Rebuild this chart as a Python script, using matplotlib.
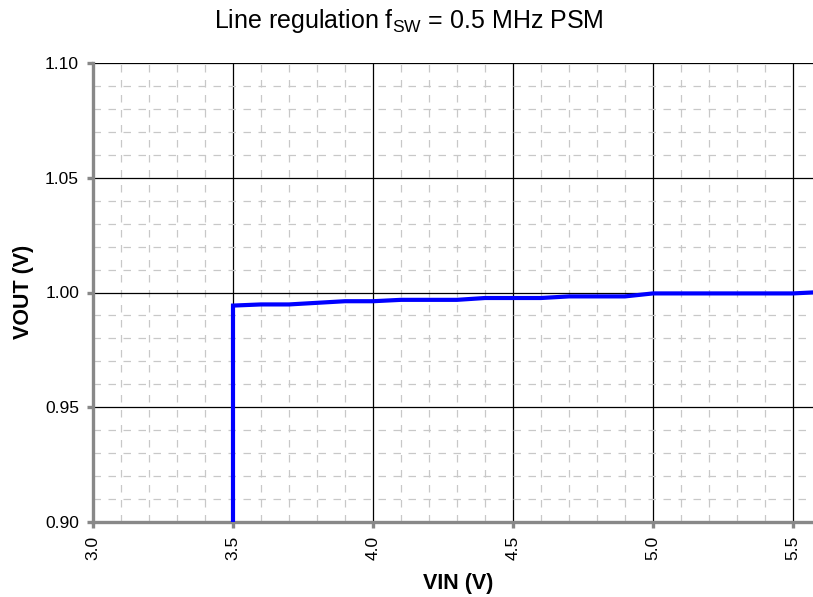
import matplotlib
matplotlib.use("Agg")
import matplotlib.pyplot as plt
from matplotlib.ticker import MultipleLocator, FormatStrFormatter

plt.rcParams['font.family'] = ['Liberation Sans', 'DejaVu Sans']
plt.rcParams['mathtext.fontset'] = 'custom'
plt.rcParams['mathtext.rm'] = 'Liberation Sans'

# VIN sweep (V) and measured VOUT (V)
vin = [3.5, 3.5, 3.6, 3.7, 3.8, 3.9, 4.0, 4.1, 4.2, 4.3, 4.4, 4.5, 4.6,
       4.7, 4.8, 4.9, 5.0, 5.1, 5.2, 5.3, 5.4, 5.5, 5.6]
vout = [0.80, 0.9943, 0.9948, 0.9948, 0.9955, 0.9962, 0.9962, 0.9968, 0.9968,
        0.9968, 0.9976, 0.9976, 0.9976, 0.9983, 0.9983, 0.9983, 0.9996,
        0.9996, 0.9996, 0.9996, 0.9996, 0.9996, 1.0002]

fig = plt.figure(figsize=(8.13, 5.97), dpi=100)
ax = fig.add_axes([93 / 813, 1 - 522 / 597, 720 / 813, 459 / 597])

ax.plot(vin, vout, color='#0000ff', lw=3.0, solid_joinstyle='miter', zorder=5)

ax.set_xlim(3.0, 3.0 + 720 / 280)
ax.set_ylim(0.90, 1.10)

ax.xaxis.set_major_locator(MultipleLocator(0.5))
ax.xaxis.set_minor_locator(MultipleLocator(0.1))
ax.yaxis.set_major_locator(MultipleLocator(0.05))
ax.yaxis.set_minor_locator(MultipleLocator(0.01))
ax.xaxis.set_major_formatter(FormatStrFormatter('%.1f'))
ax.yaxis.set_major_formatter(FormatStrFormatter('%.2f'))

ax.grid(which='minor', color='#c8c8c8', lw=0.9, ls=(0, (6, 6)))
ax.grid(which='major', color='black', lw=0.9, ls='-')
ax.set_axisbelow(True)

for s in ['top', 'right']:
    ax.spines[s].set_visible(False)
for s in ['left', 'bottom']:
    ax.spines[s].set_color('#888888')
    ax.spines[s].set_linewidth(2.4)

ax.tick_params(which='major', length=4, width=2.4, color='#888888',
               labelsize=12.5, pad=6)
ax.tick_params(which='minor', length=0)
ax.tick_params(axis='x', labelrotation=90)

fig.text(458 / 813, 1 - 583 / 597, 'VIN (V)', fontsize=15.5, fontweight='bold',
         ha='center', va='center')
fig.text(23 / 813, 1 - 292 / 597, 'VOUT (V)', fontsize=15.5, fontweight='bold',
         ha='center', va='center', rotation=90)
fig.text(409 / 813, 1 - 21 / 597, r'Line regulation f$_{\mathrm{SW}}$ = 0.5 MHz PSM',
         ha='center', va='center', fontsize=18)

fig.savefig('out.png', dpi=100)
